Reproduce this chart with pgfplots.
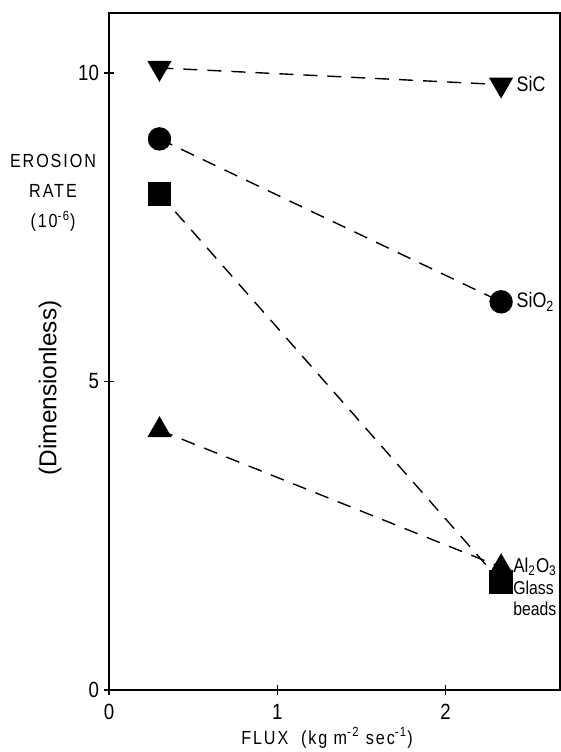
\documentclass[border=0pt]{standalone}
\usepackage{fontspec}
\setmainfont{Liberation Sans}
\newfontfamily\plotfont[FakeStretch=0.85]{Liberation Sans}
\newfontfamily\plotfontsp[FakeStretch=0.85,LetterSpace=10]{Liberation Sans}
\usepackage{pgfplots}
\pgfplotsset{compat=1.18}
\begin{document}
\begin{tikzpicture}
\begin{axis}[
  name=ax,
  scale only axis,
  width=225.5pt, height=338.5pt,
  xmin=0, xmax=2.68, ymin=0, ymax=10.97,
  xtick={0,1,2}, ytick={0,5,10},
  tick pos=left,
  tick align=center,
  major tick length=5pt,
  axis line style={line width=0.9pt},
  every tick/.style={black, line width=0.7pt},
  /pgf/number format/assume math mode=true,
  tick label style={font=\plotfont\fontsize{11}{12}\selectfont},
  yticklabel style={xshift=1pt},
  xticklabel style={yshift=-1pt},
  clip=false,
  every axis plot/.append style={black, line width=0.7pt, dash pattern=on 7pt off 5pt},
]
% SiC
\addplot[mark=triangle*, mark size=6.3pt, mark options={solid, rotate=180, fill=black}]
  coordinates {(0.30,10.08) (2.33,9.81)};
% SiO2
\addplot[mark=*, mark size=5.5pt, mark options={solid, fill=black}]
  coordinates {(0.30,8.93) (2.33,6.29)};
% Glass beads
\addplot[mark=square*, mark size=5.5pt, mark options={solid, fill=black}]
  coordinates {(0.30,8.04) (2.33,1.75)};
% Al2O3
\addplot[mark=triangle*, mark size=6.3pt, mark options={solid, fill=black}]
  coordinates {(0.30,4.21) (2.33,1.99)};

\node[anchor=west, inner sep=0pt, font=\plotfont\fontsize{10.5}{12}\selectfont] at (axis cs:2.42,9.82) {SiC};
\node[anchor=west, inner sep=0pt, font=\plotfont\fontsize{10.5}{12}\selectfont] at (axis cs:2.42,6.29) {SiO\textsubscript{2}};
\node[anchor=west, inner sep=0pt, font=\plotfont\fontsize{10}{12}\selectfont] at (axis cs:2.40,2.0) {Al\textsubscript{2}O\textsubscript{3}};
\node[anchor=west, inner sep=0pt, font=\plotfont\fontsize{9.3}{12}\selectfont] at (axis cs:2.40,1.65) {Glass};
\node[anchor=west, inner sep=0pt, font=\plotfont\fontsize{9.3}{12}\selectfont] at (axis cs:2.40,1.32) {beads};
\end{axis}
\node[align=center, inner sep=0pt, font=\plotfontsp\fontsize{9.5}{15}\selectfont]
  at ([shift={(-28pt,248.5pt)}]ax.south west) {EROSION\\RATE\\(10\textsuperscript{-6})};
\node[rotate=90, inner sep=0pt, font=\fontsize{12.2}{14}\selectfont]
  at ([shift={(-29.5pt,151pt)}]ax.south west) {(Dimensionless)};
\node[inner sep=0pt, font=\plotfontsp\fontsize{9.5}{12}\selectfont]
  at ([shift={(109pt,-24pt)}]ax.south west) {FLUX\ \ (kg m\textsuperscript{-2} sec\textsuperscript{-1})};
\pgfresetboundingbox
\path[use as bounding box] ([shift={(-54.5pt,-31pt)}]ax.south west) rectangle ([shift={(226pt,345pt)}]ax.south west);
\end{tikzpicture}
\end{document}
